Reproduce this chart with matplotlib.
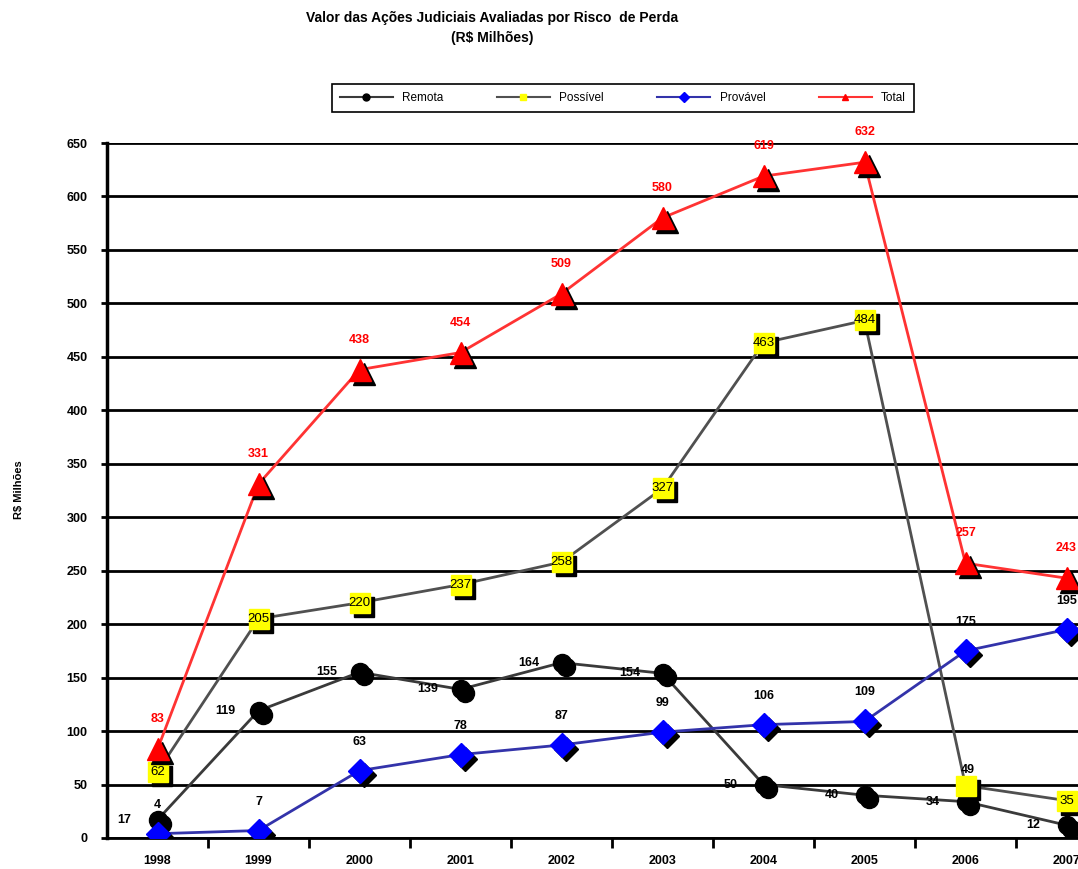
import matplotlib
matplotlib.use('Agg')
import matplotlib.pyplot as plt
from matplotlib.lines import Line2D
from matplotlib.transforms import ScaledTranslation

plt.rcParams['font.family'] = ['Liberation Sans', 'DejaVu Sans']

years = ['1998', '1999', '2000', '2001', '2002', '2003', '2004', '2005', '2006', '2007']
remota = [17, 119, 155, 139, 164, 154, 50, 40, 34, 12]
possivel = [62, 205, 220, 237, 258, 327, 463, 484, 49, 35]
provavel = [4, 7, 63, 78, 87, 99, 106, 109, 175, 195]
total = [83, 331, 438, 454, 509, 580, 619, 632, 257, 243]

fig = plt.figure(figsize=(10.78, 8.69), dpi=100)
ax = fig.add_axes([107 / 1078, 31 / 869, 1010 / 1078, 695 / 869])

x = list(range(len(years)))
# black drop shadow under each marker
shadow = ax.transData + ScaledTranslation(4 / 100, -4 / 100, fig.dpi_scale_trans)

series = [
    ('Remota', remota, '#3a3a3a', 'o', 'black', 13),
    ('Possível', possivel, '#505050', 's', '#ffff00', 15),
    ('Provável', provavel, '#3333aa', 'D', '#0000ff', 12),
    ('Total', total, '#ff3333', '^', '#ff0000', 16),
]

z = 3
for name, vals, lc, mk, fc, ms in series:
    ax.plot(x, vals, color=lc, lw=2, zorder=z)
    ax.plot(x, vals, ls='none', marker=mk, ms=ms, mfc='black', mec='black',
            transform=shadow, zorder=z + 0.1)
    ax.plot(x, vals, ls='none', marker=mk, ms=ms, mfc=fc, mec=fc, zorder=z + 0.2)
    z += 1

# value labels
for i, v in enumerate(remota):
    ax.annotate(str(v), (i, v), xytext=(-33, 0), textcoords='offset pixels',
                ha='center', va='center', fontsize=9, fontweight='bold', zorder=10)
for i, v in enumerate(possivel):
    if i == 8:
        ax.annotate(str(v), (i, v), xytext=(2, 16), textcoords='offset pixels',
                    ha='center', va='center', fontsize=9, fontweight='bold', zorder=10)
    else:
        ax.annotate(str(v), (i, v), ha='center', va='center', fontsize=9.5, zorder=10)
for i, v in enumerate(provavel):
    ax.annotate(str(v), (i, v), xytext=(0, 29), textcoords='offset pixels',
                ha='center', va='center', fontsize=9, fontweight='bold', zorder=10)
for i, v in enumerate(total):
    ax.annotate(str(v), (i, v), xytext=(0, 30), textcoords='offset pixels',
                ha='center', va='center', fontsize=9, fontweight='bold',
                color='red', zorder=10)

ax.set_xlim(-0.5, len(years) - 0.5)
ax.set_ylim(0, 650)
ax.set_yticks(range(0, 651, 50))
ax.yaxis.grid(True, color='black', lw=2)
ax.set_axisbelow(True)
ax.set_xticks(x)
ax.set_xticklabels(years, fontsize=9, fontweight='bold')
ax.set_xticks([i + 0.5 for i in x[:-1]], minor=True)
ax.tick_params(axis='x', which='major', length=0, pad=12)
ax.tick_params(axis='x', which='minor', length=7, width=2, direction='out')
ax.tick_params(axis='y', length=4, width=2, pad=10, labelsize=9)
for lbl in ax.get_yticklabels():
    lbl.set_fontweight('bold')
for s in ['top', 'right']:
    ax.spines[s].set_visible(False)
ax.spines['left'].set_linewidth(2.5)
ax.spines['bottom'].set_linewidth(2)

fig.text(19 / 1078, 1 - 490 / 869, 'R$ Milhões', rotation=90, ha='center',
         va='center', fontsize=8, fontweight='bold')

fig.text(492 / 1078, 1 - 18 / 869, 'Valor das Ações Judiciais Avaliadas por Risco  de Perda',
         ha='center', va='center', fontsize=10, fontweight='bold')
fig.text(492 / 1078, 1 - 38 / 869, '(R$ Milhões)', ha='center', va='center',
         fontsize=10, fontweight='bold')

handles = [Line2D([], [], color=lc, lw=1.5, marker=mk, ms=5, mfc=fc, mec=fc)
           for name, vals, lc, mk, fc, ms in series]
leg = fig.legend(handles, [s[0] for s in series], loc='center', ncol=4,
                 bbox_to_anchor=(623 / 1078, 1 - 98 / 869), fontsize=8.5,
                 handlelength=4.5, columnspacing=4.5, borderpad=0.7,
                 fancybox=False, framealpha=1, edgecolor='black')
leg.get_frame().set_linewidth(1.2)

fig.savefig('out.png', dpi=100)
